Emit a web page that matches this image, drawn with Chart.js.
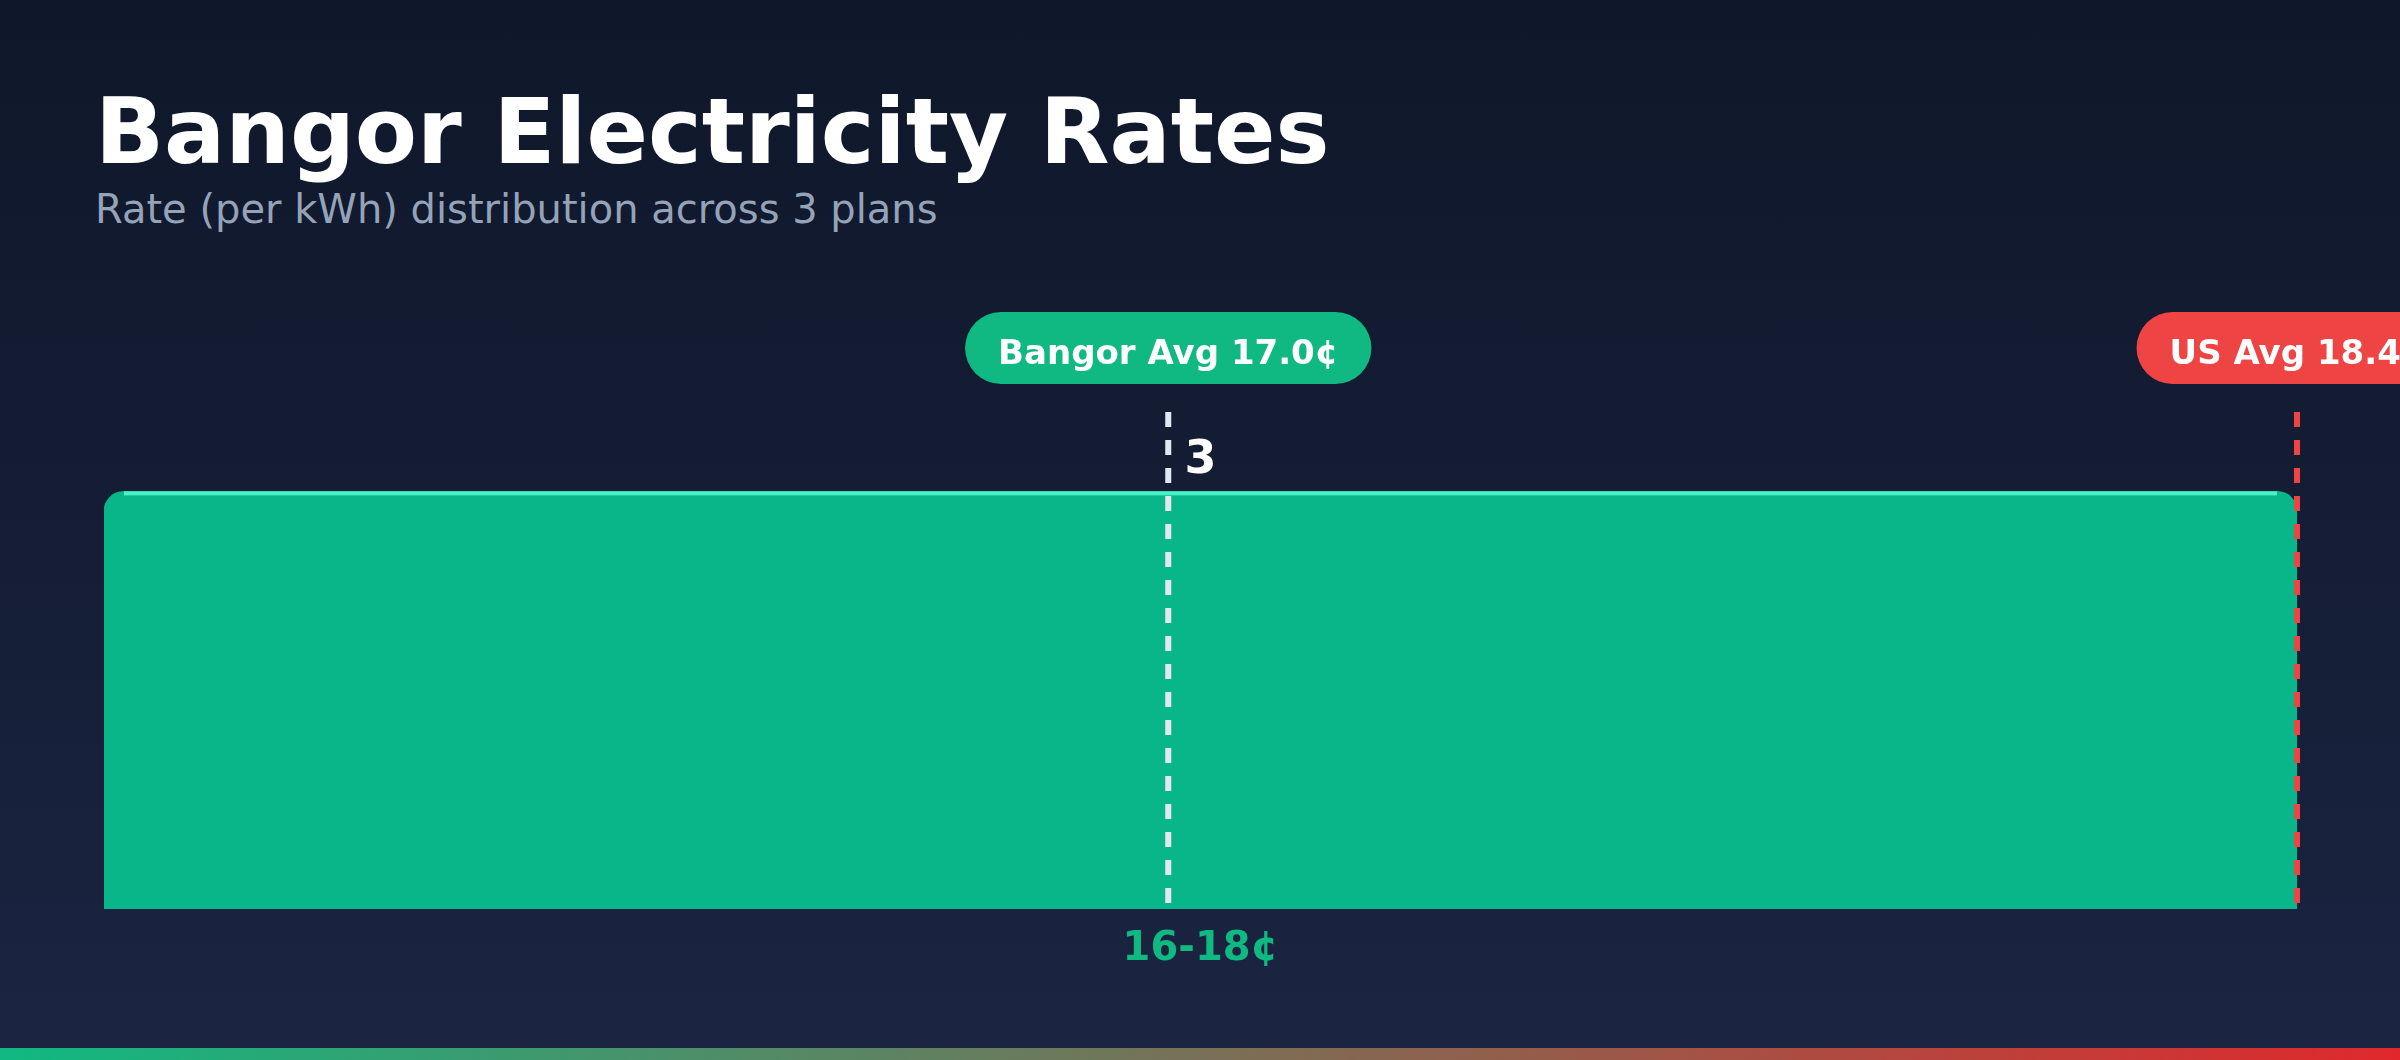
<!DOCTYPE html>
<html>
<head>
<meta charset="utf-8">
<title>Bangor Electricity Rates</title>
<script src="https://cdn.jsdelivr.net/npm/chart.js@4.4.1/dist/chart.umd.min.js"></script>
<style>
  html, body { margin: 0; padding: 0; }
  body {
    width: 2400px; height: 1060px; overflow: hidden; position: relative;
    background: linear-gradient(180deg, #0f172a 0%, #1b2441 100%);
    font-family: "DejaVu Sans", sans-serif;
  }
  h1 {
    position: absolute; left: 95px; top: 87px; margin: 0;
    font-size: 90.7px; line-height: 1; font-weight: bold; color: #ffffff;
  }
  .sub {
    position: absolute; left: 95px; top: 189px; margin: 0;
    font-size: 40px; line-height: 1; color: #94a3b8;
  }
  #wrap { position: absolute; left: 0; top: 0; width: 2400px; height: 1060px; }
  .strip {
    position: absolute; left: 0; top: 1048px; width: 2400px; height: 12px;
    background: linear-gradient(90deg, #10b981 0%, #e0282c 100%);
  }
</style>
</head>
<body>
<h1>Bangor Electricity Rates</h1>
<p class="sub">Rate (per kWh) distribution across 3 plans</p>
<div id="wrap"><canvas id="rateChart"></canvas></div>
<div class="strip"></div>
<script>
// data
const rangeLabels = ["16-18¢"];
const planCounts = [3];
const avgNames = ["Bangor Avg", "US Avg"];
const avgRates = [17.0, 18.4];
const avgColors = ["#e2e8f0", "#ef4444"];
const pillColors = ["#10b981", "#ef4444"];
// rate span covered by the x axis, used to place the average markers
const rateAxisMin = 15.68;
const rateAxisMax = 18.4;
const countAxisMax = 3.57;

const FONT = "DejaVu Sans";

// highlight strip + value label on top of bars
const barExtras = {
  id: "barExtras",
  afterDatasetsDraw(chart) {
    const ctx = chart.ctx;
    const meta = chart.getDatasetMeta(0);
    meta.data.forEach((bar, i) => {
      const r = 20;
      const left = bar.x - bar.width / 2;
      ctx.save();
      ctx.fillStyle = "#4af0c8";
      ctx.fillRect(left + r, bar.y, bar.width - 2 * r, 4);
      ctx.fillStyle = "#ffffff";
      ctx.font = "bold 46px '" + FONT + "'";
      ctx.textAlign = "center";
      ctx.textBaseline = "alphabetic";
      ctx.fillText(String(planCounts[i]), bar.x, bar.y - 18);
      ctx.restore();
    });
  },
};

// dashed average lines with pill labels
const avgMarkers = {
  id: "avgMarkers",
  afterDraw(chart) {
    const ctx = chart.ctx;
    const area = chart.chartArea;
    const xScale = chart.scales.x;
    avgRates.forEach((rate, i) => {
      const x = xScale.getPixelForDecimal((rate - rateAxisMin) / (rateAxisMax - rateAxisMin));
      ctx.save();
      ctx.strokeStyle = avgColors[i];
      ctx.lineWidth = 6;
      ctx.setLineDash([15, 13]);
      ctx.beginPath();
      ctx.moveTo(x, area.top);
      ctx.lineTo(x, area.bottom);
      ctx.stroke();
      ctx.setLineDash([]);

      const text = avgNames[i] + " " + rate.toFixed(1) + "¢";
      ctx.font = "bold 34px '" + FONT + "'";
      const w = ctx.measureText(text).width + 66;
      const h = 72;
      const cy = area.top - 64;
      ctx.fillStyle = pillColors[i];
      ctx.beginPath();
      ctx.roundRect(x - w / 2, cy - h / 2, w, h, h / 2);
      ctx.fill();
      ctx.fillStyle = "#ffffff";
      ctx.textAlign = "center";
      ctx.textBaseline = "alphabetic";
      ctx.fillText(text, x, cy + 16);
      ctx.restore();
    });
  },
};

new Chart(document.getElementById("rateChart").getContext("2d"), {
  type: "bar",
  data: {
    labels: rangeLabels,
    datasets: [
      {
        label: "Plans",
        data: planCounts,
        backgroundColor: "#08b689",
        borderWidth: 0,
        borderRadius: { topLeft: 20, topRight: 20 },
        borderSkipped: false,
        categoryPercentage: 1,
        barPercentage: 1,
      },
    ],
  },
  options: {
    responsive: true,
    maintainAspectRatio: false,
    devicePixelRatio: 1,
    animation: false,
    layout: {
      padding: { left: 104, right: 103, top: 412, bottom: 71 },
    },
    plugins: {
      legend: { display: false },
      tooltip: { enabled: false },
    },
    scales: {
      x: {
        grid: { display: false, drawTicks: false },
        border: { display: false },
        ticks: {
          color: "#10b981",
          padding: 17,
          font: { family: FONT, size: 40, weight: "bold" },
        },
        afterFit(scale) {
          scale.height = 80;
        },
      },
      y: {
        display: false,
        min: 0,
        max: countAxisMax,
      },
    },
  },
  plugins: [barExtras, avgMarkers],
});
</script>
</body>
</html>
